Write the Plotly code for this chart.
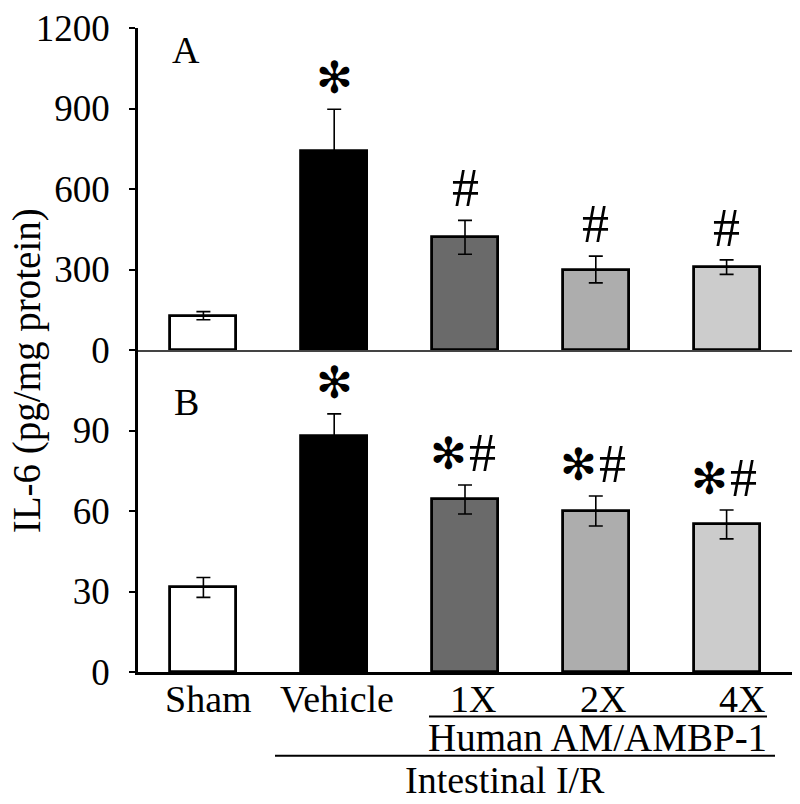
import plotly.graph_objects as go
from plotly.subplots import make_subplots

categories = ["Sham", "Vehicle", "1X", "2X", "4X"]
il6_a = [128, 740, 420, 300, 309]
il6_a_err = [15, 157, 63, 50, 27]
il6_b = [31.5, 88, 64.3, 60, 55]
il6_b_err = [3.7, 8.2, 5.4, 5.6, 5.4]
marks_a = ["", "*", "#", "#", "#"]
marks_b = ["", "*", "*#", "*#", "*#"]
bar_colors = ["#ffffff", "#000000", "#6a6a6a", "#adadad", "#cccccc"]
ticks_a = [0, 300, 600, 900, 1200]
ticks_b = [0, 30, 60, 90]
label_xshift = [5, 3, 8, 7, 15]

FONT = "Liberation Serif, Times New Roman, serif"
W, H = 800, 804
ML, MR, MT, MB = 138, 8, 19, 132
PW = W - ML - MR
PH = H - MT - MB


def px_x(p):
    return (p - ML) / PW


def px_y(p):
    return (H - MB - p) / PH


fig = make_subplots(rows=2, cols=1, shared_xaxes=True, vertical_spacing=0)

xs = list(range(len(categories)))
for row, vals, errs in [(1, il6_a, il6_a_err), (2, il6_b, il6_b_err)]:
    fig.add_trace(go.Bar(
        x=xs, y=vals, width=0.505,
        marker=dict(color=bar_colors, line=dict(color="black", width=2.8)),
        error_y=dict(type="data", array=errs, visible=True, color="black",
                     thickness=1.6, width=7),
        showlegend=False,
    ), row=row, col=1)

ann = []
for yref, vals, errs, marks in [("y", il6_a, il6_a_err, marks_a), ("y2", il6_b, il6_b_err, marks_b)]:
    for i, m in enumerate(marks):
        if not m:
            continue
        both = ("*" in m) and ("#" in m)
        top = vals[i] + errs[i]
        if "*" in m:
            ann.append(dict(x=i, y=top, xref="x", yref=yref, text="✻", showarrow=False,
                            xanchor="center", yanchor="bottom",
                            xshift=-17 if both else 0, yshift=4,
                            font=dict(family="DejaVu Sans", size=44, color="black")))
        if "#" in m:
            ann.append(dict(x=i, y=top, xref="x", yref=yref, text="#", showarrow=False,
                            xanchor="center", yanchor="bottom",
                            xshift=17 if both else 0, yshift=0,
                            font=dict(family=FONT, size=54, color="black")))

# x category labels
for i, lab in enumerate(categories):
    ann.append(dict(x=i, y=px_y(699), xref="x", yref="paper", text=lab, showarrow=False,
                    xanchor="center", yanchor="middle", xshift=label_xshift[i],
                    font=dict(family=FONT, size=38, color="black")))

# panel letters
ann.append(dict(x=px_x(186), y=px_y(41), xref="paper", yref="paper", text="A",
                showarrow=False, xanchor="center", yanchor="middle",
                font=dict(family=FONT, size=38, color="black")))
ann.append(dict(x=px_x(186), y=px_y(398), xref="paper", yref="paper", text="B",
                showarrow=False, xanchor="center", yanchor="middle",
                font=dict(family=FONT, size=38, color="black")))
# y title
ann.append(dict(x=px_x(27), y=px_y(367), xref="paper", yref="paper",
                text="IL-6 (pg/mg protein)", textangle=-90, showarrow=False,
                xanchor="center", yanchor="middle",
                font=dict(family=FONT, size=39, color="black")))
# group labels
ann.append(dict(x=px_x(597), y=px_y(738), xref="paper", yref="paper",
                text="Human AM/AMBP-1", showarrow=False, xanchor="center", yanchor="middle",
                font=dict(family=FONT, size=39, color="black")))
ann.append(dict(x=px_x(505), y=px_y(782), xref="paper", yref="paper",
                text="Intestinal I/R", showarrow=False, xanchor="center", yanchor="middle",
                font=dict(family=FONT, size=38, color="black")))

shapes = [
    dict(type="line", xref="paper", yref="paper", x0=px_x(429), x1=px_x(767),
         y0=px_y(717), y1=px_y(717), line=dict(color="black", width=2)),
    dict(type="line", xref="paper", yref="paper", x0=px_x(275), x1=px_x(775),
         y0=px_y(757), y1=px_y(757), line=dict(color="black", width=2)),
]

fig.update_layout(
    width=W, height=H, margin=dict(l=ML, r=MR, t=MT, b=MB),
    plot_bgcolor="white", paper_bgcolor="white",
    font=dict(family=FONT, size=37, color="black"),
    annotations=ann, shapes=shapes, bargap=0,
)
fig.update_xaxes(range=[-0.5, 4.5], showgrid=False, zeroline=False, ticks="",
                 tickvals=xs, showticklabels=False)
fig.update_xaxes(showline=True, linecolor="#444", linewidth=1.5, row=1, col=1)
fig.update_xaxes(showline=True, linecolor="black", linewidth=2.5, row=2, col=1)
fig.update_yaxes(showgrid=False, zeroline=False, showline=True, linecolor="black", linewidth=2.5,
                 ticks="outside", ticklen=6, tickwidth=1.5, tickcolor="black",
                 ticklabelstandoff=12, ticklabeloverflow="allow",
                 tickfont=dict(family=FONT, size=37))
fig.update_yaxes(range=[0, 1200], tickvals=ticks_a, row=1, col=1)
fig.update_yaxes(range=[0, 120], tickvals=ticks_b, row=2, col=1)

fig.write_html("out.html", config={"displayModeBar": False},
               post_script="document.body.style.margin='0px';document.body.style.padding='0px';")
